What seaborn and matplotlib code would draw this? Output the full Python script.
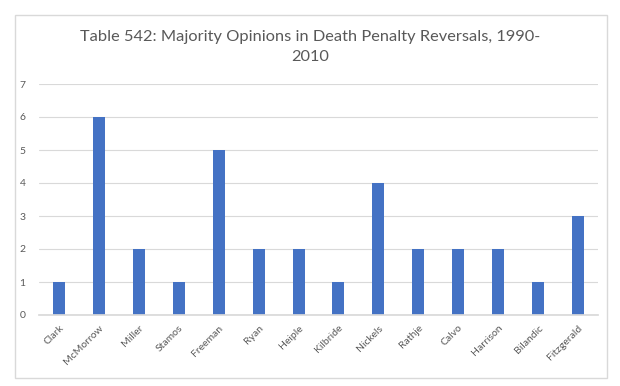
import matplotlib
matplotlib.use("Agg")
import matplotlib.pyplot as plt
import seaborn as sns
import pandas as pd
from matplotlib.patches import Rectangle

judges = ["Clark", "McMorrow", "Miller", "Stamos", "Freeman", "Ryan", "Heiple",
          "Kilbride", "Nickels", "Rathje", "Calvo", "Harrison", "Bilandic", "Fitzgerald"]
opinions = [1, 6, 2, 1, 5, 2, 2, 1, 4, 2, 2, 2, 1, 3]
yticks = [0, 1, 2, 3, 4, 5, 6, 7]

sns.set_theme(style="white")
plt.rcParams['font.family'] = ['Lato', 'DejaVu Sans']

df = pd.DataFrame({"judge": judges, "opinions": opinions})

fig = plt.figure(figsize=(6.2, 3.86), dpi=100)
fig.patches.append(Rectangle((15/620, 1-378/386), 592/620, 363/386, transform=fig.transFigure,
                             fill=False, edgecolor="#d9d9d9", linewidth=1))
ax = fig.add_axes([39/620, 1-315/386, 559/620, 231/386])
sns.barplot(data=df, x="judge", y="opinions", color="#4472C4", width=0.3, ax=ax,
            saturation=1, linewidth=0)
ax.set_ylim(0, 7)
ax.set_yticks(yticks)
ax.yaxis.grid(True, color="#d9d9d9", linewidth=0.8)
ax.set_axisbelow(True)
for s in ["top", "right", "left"]:
    ax.spines[s].set_visible(False)
ax.spines["bottom"].set_color("#d9d9d9")
ax.set_xlabel("")
ax.set_ylabel("")
ax.tick_params(axis="both", length=0, colors="#595959", labelsize=7.5)
ax.tick_params(axis="y", pad=14)
ax.tick_params(axis="x", pad=6)
for lab in ax.get_xticklabels():
    lab.set_rotation(45)
    lab.set_ha("right")
    lab.set_rotation_mode("anchor")
for lab in ax.get_yticklabels():
    lab.set_ha("left")
ax.set_xlim(-0.5, len(judges) - 0.5)
fig.text(0.5, 1-47/386, "Table 542: Majority Opinions in Death Penalty Reversals, 1990-\n2010",
         ha="center", va="center", multialignment="center", fontsize=11.8,
         color="#595959", linespacing=1.5)
fig.savefig("out.png", dpi=100)
